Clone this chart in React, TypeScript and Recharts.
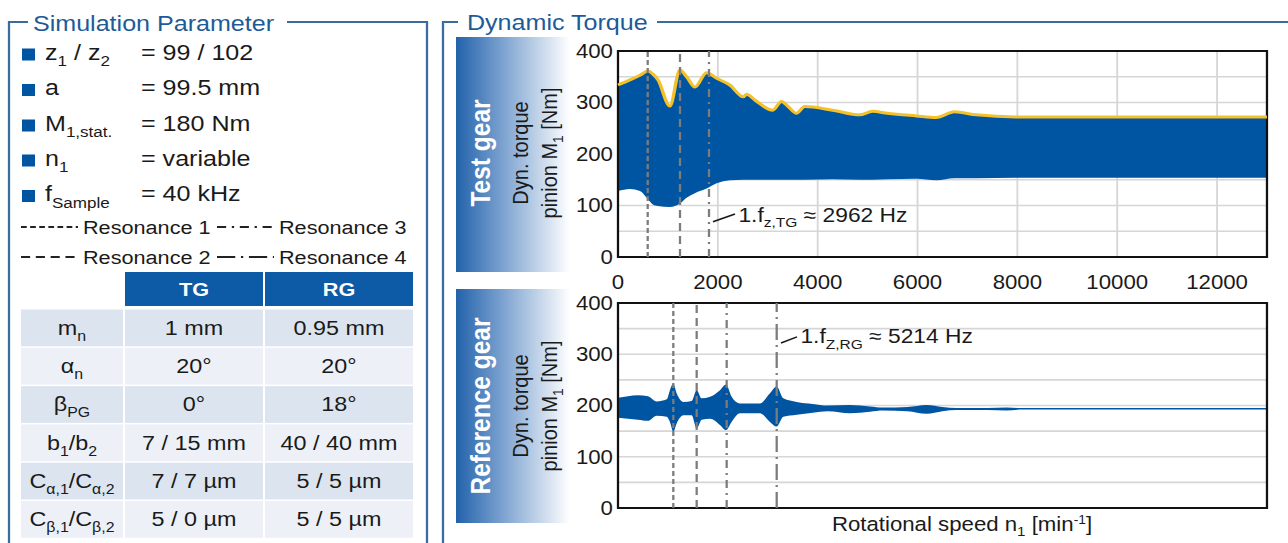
import React from "react";
import {
  Area,
  CartesianGrid,
  ComposedChart,
  Line,
  ReferenceArea,
  ReferenceLine,
  XAxis,
  YAxis,
} from "recharts";

// the source figure is stretched horizontally, so everything is drawn narrow and scaled
const SX = 1.14;
const u = (px: number) => px / SX;

const FONT = '"Liberation Sans", Arial, Helvetica, sans-serif';
const BLUE = "#0055a2";
const YELLOW = "#f4c12a";
const FRAME = "#3a6c9e";
const TITLE = "#1d5b98";
const INK = "#1a1a1a";

// test gear: rotational speed [1/min], envelope of dyn. torque [Nm]
const tgSpeed = [0, 240, 440, 600, 700, 800, 1040, 1240, 1375, 1540, 1775, 1975, 2240, 2510, 2575, 2740, 3100, 3275, 3410, 3575, 3740, 4300, 4840, 5100, 5400, 5975, 6375, 6740, 7175, 7975, 9000, 13000];
const tgUpper = [334, 344, 353, 361, 355, 344, 293, 363, 350, 330, 358, 347, 334, 311, 316, 305, 285, 302, 292, 279, 292, 285, 276, 283, 279, 274, 271, 282, 276, 272, 272, 272];
const tgLower = [128, 132, 128, 112, 102, 99, 97, 104, 115, 124, 133, 143, 149, 150, 150, 150, 150, 150, 150, 150, 150, 151, 150, 150, 151, 152, 149, 153, 153, 154, 154, 154];

// reference gear
const rgSpeed = [0, 200, 400, 600, 775, 975, 1040, 1108, 1175, 1308, 1475, 1576, 1676, 1843, 2043, 2163, 2276, 2444, 2844, 3044, 3179, 3311, 3580, 3900, 4200, 4647, 5048, 5310, 5800, 6183, 6500, 6784, 7400, 7785, 8100, 13000];
const rgUpper = [215, 218, 220, 218, 208, 212, 230, 243, 224, 207, 209, 230, 214, 217, 230, 241, 217, 204, 204, 224, 237, 214, 207, 203, 200, 201, 198, 196, 197, 201, 197, 195, 195, 196, 195, 195];
const rgLower = [176, 174, 172, 170, 180, 178, 168, 149, 165, 181, 181, 155, 172, 174, 162, 152, 168, 185, 185, 168, 159, 178, 182, 186, 189, 185, 188, 190, 189, 184, 189, 191, 191, 190, 192, 192];

const speedTicks = [0, 2000, 4000, 6000, 8000, 10000, 12000];
const torqueTicks = [0, 50, 100, 150, 200, 250, 300, 350, 400];

// resonance speeds (index = resonance number - 1)
const resNames = ["Resonance 1", "Resonance 2", "Resonance 3", "Resonance 4"];
const resDash = ["5 3", "8 5", "8 5 2 5", "16 5 2 5"];
const tgResonance = [595, 1242, 1823];
const rgResonance = [1108, 1576, 2177, 3179];

const paramNames = ["z_{1} / z_{2}", "a", "M_{1,stat.}", "n_{1}", "f_{Sample}"];
const paramValues = ["= 99 / 102", "= 99.5 mm", "= 180 Nm", "= variable", "= 40 kHz"];

const tableHead = ["TG", "RG"];
const tableRows = ["m_{n}", "α_{n}", "β_{PG}", "b_{1}/b_{2}", "C_{α,1}/C_{α,2}", "C_{β,1}/C_{β,2}"];
const tableTG = ["1 mm", "20°", "0°", "7 / 15 mm", "7 / 7 µm", "5 / 0 µm"];
const tableRG = ["0.95 mm", "20°", "18°", "40 / 40 mm", "5 / 5 µm", "5 / 5 µm"];

const tgData = tgSpeed.map((n, i) => ({ n, band: [tgLower[i], tgUpper[i]], hi: tgUpper[i] }));
const rgData = rgSpeed.map((n, i) => ({ n, band: [rgLower[i], rgUpper[i]] }));

// text with _{sub} and ^{sup}
function rich(text: string, size: number) {
  const parts = text.split(/([_^]\{[^}]*\})/).filter(Boolean);
  let shift = 0;
  return parts.map((p, i) => {
    let target = 0;
    let content = p;
    let fs = size;
    if (p.startsWith("_{")) {
      target = size * 0.28;
      content = p.slice(2, -1);
      fs = size * 0.68;
    } else if (p.startsWith("^{")) {
      target = -size * 0.38;
      content = p.slice(2, -1);
      fs = size * 0.62;
    }
    const dy = target - shift;
    shift = target;
    return (
      <tspan key={i} dy={dy} fontSize={fs}>
        {content}
      </tspan>
    );
  });
}

const PLOT_LEFT = 618;
const PLOT_RIGHT = 1267;
const CHART_LEFT = 570;
const yAxisW = u(PLOT_LEFT - CHART_LEFT);
const plotW = u(PLOT_RIGHT - PLOT_LEFT);
const chartW = yAxisW + plotW + 6;

const tickStyle = { fontSize: 19.5, fill: INK, fontFamily: FONT };

const annotation = (sub: string, value: string) => (props: any) => {
  const vb = props.viewBox ?? { x: 0, y: 0, width: 0, height: 0 };
  return (
    <text x={vb.x + vb.width + 3} y={vb.y + vb.height} fontSize={20} fill={INK} fontFamily={FONT}>
      {rich(`1.f_{${sub}} ≈ ${value} Hz`, 20)}
    </text>
  );
};

type ChartProps = {
  data: any[];
  top: number;
  plotH: number;
  showTicks: boolean;
  envelope: boolean;
  resonance: number[];
  leader: { x1: number; y1: number; x2: number; y2: number; sub: string; value: string };
};

function TorqueChart({ data, top, plotH, showTicks, envelope, resonance, leader }: ChartProps) {
  const axisH = showTicks ? 42 : 1;
  const mt = 11;
  const mb = showTicks ? 0 : 12;
  return (
    <div style={{ position: "absolute", left: u(CHART_LEFT), top, pointerEvents: "none" }}>
      <ComposedChart
        width={chartW}
        height={mt + plotH + axisH + mb}
        data={data}
        margin={{ top: mt, right: 6, bottom: mb, left: 0 }}
        style={{ overflow: "visible" }}
      >
        <CartesianGrid stroke="#d6d6d6" strokeWidth={1.6} />
        <XAxis
          dataKey="n"
          type="number"
          domain={[0, 13000]}
          ticks={speedTicks}
          interval={0}
          height={axisH}
          axisLine={false}
          tickLine={false}
          tick={showTicks ? tickStyle : false}
          tickMargin={12}
        />
        <YAxis
          type="number"
          domain={[0, 400]}
          allowDataOverflow
          ticks={torqueTicks}
          interval={0}
          width={yAxisW}
          axisLine={false}
          tickLine={false}
          tickSize={2}
          tickMargin={2.4}
          tick={tickStyle}
          tickFormatter={(v: number) => (v % 100 === 0 ? String(v) : "")}
        />
        <Area
          dataKey="band"
          type="monotone"
          fill={BLUE}
          fillOpacity={1}
          stroke="none"
          isAnimationActive={false}
        />
        {envelope && (
          <Line
            dataKey="hi"
            type="monotone"
            stroke={YELLOW}
            strokeWidth={3}
            dot={false}
            isAnimationActive={false}
          />
        )}
        {resonance.map((x, i) => (
          <ReferenceLine
            key={i}
            x={x}
            stroke="#7c7c7c"
            strokeWidth={2}
            strokeDasharray={resDash[i]}
          />
        ))}
        <ReferenceLine
          segment={[
            { x: leader.x1, y: leader.y1 },
            { x: leader.x2, y: leader.y2 },
          ]}
          stroke={INK}
          strokeWidth={1.5}
          label={annotation(leader.sub, leader.value)}
        />
        <ReferenceArea x1={0} x2={13000} y1={0} y2={400} fill="none" stroke="#111" strokeWidth={2} />
      </ComposedChart>
    </div>
  );
}

function LeftPanel() {
  const baselines = [60, 95.5, 131, 166, 201.5];
  const legendBase = [234, 264];
  const headY = 272;
  const headH = 34;
  const cols = [
    [21, 123],
    [125, 263],
    [265, 413],
  ];
  const rowTop = (i: number) => 309.5 + i * 38.3;
  const rowH = 36.8;
  return (
    <g fontFamily={FONT}>
      <polyline points={`${u(28)},22 ${u(9)},22 ${u(9)},545`} fill="none" stroke={FRAME} strokeWidth={2} />
      <polyline points={`${u(287)},22 ${u(427)},22 ${u(427)},545`} fill="none" stroke={FRAME} strokeWidth={2} />
      <text x={u(33)} y={31} fontSize={22} fill={TITLE}>
        Simulation Parameter
      </text>
      {paramNames.map((name, i) => (
        <g key={name}>
          <rect x={u(22)} y={baselines[i] - 11.5} width={u(13)} height={12} fill={BLUE} />
          <text x={u(45)} y={baselines[i]} fontSize={22} fill={INK}>
            {rich(name, 22)}
          </text>
          <text x={u(141)} y={baselines[i]} fontSize={22} fill={INK}>
            {paramValues[i]}
          </text>
        </g>
      ))}
      {resNames.map((name, i) => {
        const col = i < 2 ? 0 : 1;
        const row = i % 2;
        const x0 = col === 0 ? 21 : 217;
        const y = legendBase[row];
        return (
          <g key={name}>
            <line
              x1={u(x0)}
              x2={u(x0 + 57)}
              y1={y - 7}
              y2={y - 7}
              stroke="#222"
              strokeWidth={2}
              strokeDasharray={resDash[i]}
            />
            <text x={u(x0 + 62)} y={y} fontSize={19} fill={INK}>
              {name}
            </text>
          </g>
        );
      })}
      {tableHead.map((h, i) => (
        <g key={h}>
          <rect x={u(cols[i + 1][0])} y={headY} width={u(cols[i + 1][1] - cols[i + 1][0])} height={headH} fill="#0d5aa6" />
          <text
            x={u((cols[i + 1][0] + cols[i + 1][1]) / 2)}
            y={headY + headH / 2 + 7}
            textAnchor="middle"
            fontSize={19}
            fontWeight="bold"
            fill="#fff"
          >
            {h}
          </text>
        </g>
      ))}
      {tableRows.map((r, i) => {
        const y = rowTop(i);
        const fill = i % 2 === 0 ? "#dce5ef" : "#edf1f7";
        const cells = [r, tableTG[i], tableRG[i]];
        return (
          <g key={r}>
            {cells.map((c, j) => (
              <g key={j}>
                <rect x={u(cols[j][0])} y={y} width={u(cols[j][1] - cols[j][0])} height={rowH} fill={fill} />
                <text
                  x={u((cols[j][0] + cols[j][1]) / 2)}
                  y={y + rowH / 2 + 7}
                  textAnchor="middle"
                  fontSize={20.5}
                  fill={INK}
                >
                  {j === 0 ? rich(c, 20.5) : c}
                </text>
              </g>
            ))}
          </g>
        );
      })}
    </g>
  );
}

function RightDecor() {
  const gearLabel = (label: string, cy: number, y0: number, y1: number, id: string) => (
    <g>
      <rect x={u(456)} y={y0} width={u(570 - 456)} height={y1 - y0} fill={`url(#${id})`} />
      <text
        transform={`translate(${u(490)},${cy}) rotate(-90)`}
        textAnchor="middle"
        fontSize={24.5}
        fontWeight="bold"
        fill="#fff"
      >
        {label}
      </text>
      <text transform={`translate(${u(528)},${cy}) rotate(-90)`} textAnchor="middle" fontSize={20} fill={INK}>
        Dyn. torque
      </text>
      <text transform={`translate(${u(557)},${cy}) rotate(-90)`} textAnchor="middle" fontSize={20} fill={INK}>
        {rich("pinion M_{1} [Nm]", 20)}
      </text>
    </g>
  );
  return (
    <g fontFamily={FONT}>
      <defs>
        {["gA", "gB"].map((id) => (
          <linearGradient key={id} id={id} x1="0" x2="1" y1="0" y2="0">
            <stop offset="0%" stopColor="#2262aa" />
            <stop offset="35%" stopColor="#6f99cb" />
            <stop offset="100%" stopColor="#ffffff" />
          </linearGradient>
        ))}
      </defs>
      <polyline points={`${u(458)},22 ${u(443)},22 ${u(443)},545`} fill="none" stroke={FRAME} strokeWidth={2} />
      <line x1={u(657)} x2={u(1288)} y1={22} y2={22} stroke={FRAME} strokeWidth={2} />
      <text x={u(467)} y={30} fontSize={22} fill={TITLE}>
        Dynamic Torque
      </text>
      {gearLabel("Test gear", 153, 37, 272, "gA")}
      {gearLabel("Reference gear", 406, 289, 523, "gB")}
      <text x={u(962)} y={531} textAnchor="middle" fontSize={19.5} fill={INK}>
        {rich("Rotational speed n_{1} [min^{-1}]", 19.5)}
      </text>
    </g>
  );
}

export default function App() {
  return (
    <div
      style={{
        position: "absolute",
        left: 0,
        top: 0,
        width: u(1288),
        height: 543,
        background: "#fff",
        transform: `scaleX(${SX})`,
        transformOrigin: "0 0",
        fontFamily: FONT,
        overflow: "hidden",
      }}
    >
      <svg width={u(1288)} height={543} style={{ position: "absolute", left: 0, top: 0 }}>
        <LeftPanel />
        <RightDecor />
      </svg>
      <TorqueChart
        data={tgData}
        top={40}
        plotH={206}
        showTicks
        envelope
        resonance={tgResonance}
        leader={{ x1: 1903, y1: 68.5, x2: 2344, y2: 83.5, sub: "z,TG", value: "2962" }}
      />
      <TorqueChart
        data={rgData}
        top={292}
        plotH={205}
        showTicks={false}
        envelope={false}
        resonance={rgResonance}
        leader={{ x1: 3265, y1: 322, x2: 3586, y2: 334, sub: "Z,RG", value: "5214" }}
      />
    </div>
  );
}
